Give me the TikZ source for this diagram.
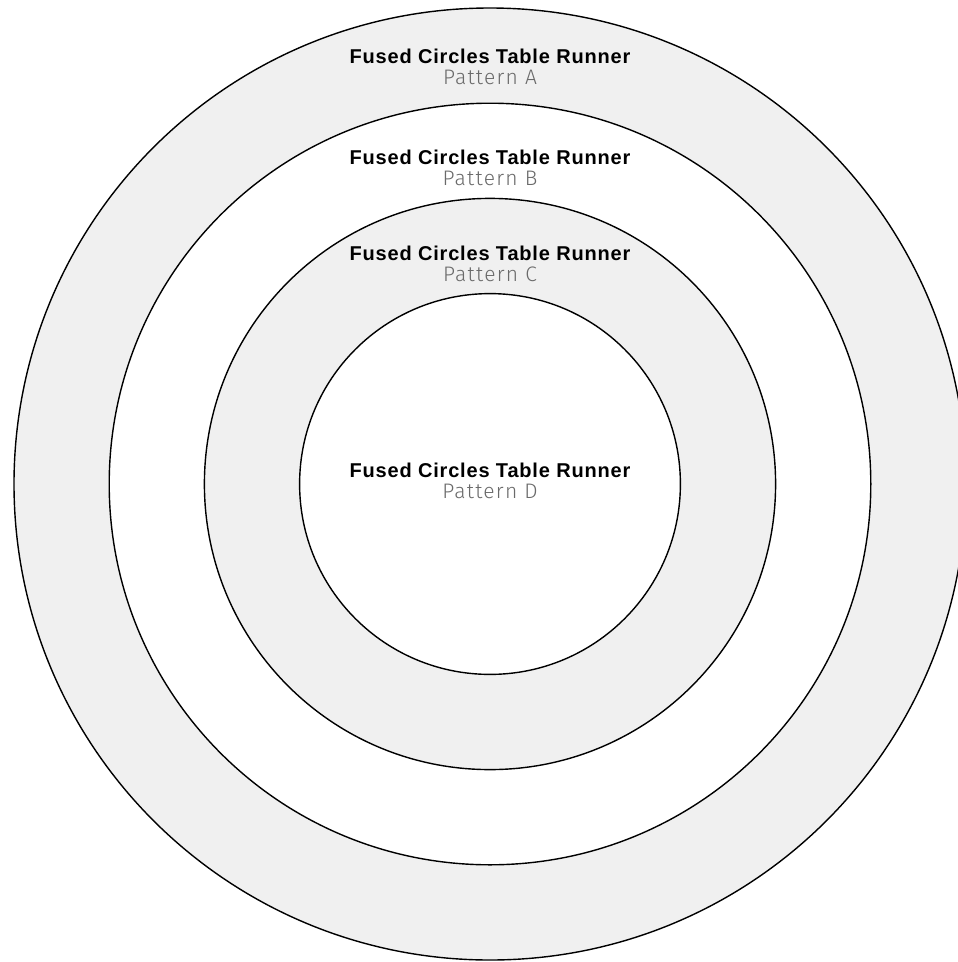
\documentclass[tikz,border=0pt]{standalone}
\usepackage{fontspec}
\setmainfont{Liberation Sans}
\newfontfamily\boldtitle[LetterSpace=4]{Liberation Sans Bold}
\newfontfamily\lightfont[LetterSpace=6]{Fira Sans Light}
\definecolor{ringgray}{HTML}{F0F0F0}
\definecolor{subgray}{HTML}{6A6A6A}
\tikzset{
  ring/.style={draw=black, line width=1.4pt},
  titletext/.style={anchor=base, font=\boldtitle\fontsize{20}{23}\selectfont, text=black, inner sep=0pt},
  subtext/.style={anchor=base, font=\lightfont\fontsize{21}{24}\selectfont, text=subgray, inner sep=0pt}
}
\begin{document}
\begin{tikzpicture}[x=1pt,y=-1pt]
\useasboundingbox (0,0) rectangle (958,962);
\clip (0,0) rectangle (958,962);
\coordinate (c) at (490,484);
\filldraw[ring, fill=ringgray] (c) circle[radius=476];
\filldraw[ring, fill=white] (c) circle[radius=380.8];
\filldraw[ring, fill=ringgray] (c) circle[radius=285.6];
\filldraw[ring, fill=white] (c) circle[radius=190.4];
\node[titletext] (ta) at (490,63) {Fused Circles Table Runner};
\node[subtext] (pa) at (490,84) {Pattern A};
\node[titletext] (tb) at (490,164) {Fused Circles Table Runner};
\node[subtext] (pb) at (490,185) {Pattern B};
\node[titletext] (tc) at (490,260) {Fused Circles Table Runner};
\node[subtext] (pc) at (490,281) {Pattern C};
\node[titletext] (td) at (490,477) {Fused Circles Table Runner};
\node[subtext] (pd) at (490,498) {Pattern D};
\end{tikzpicture}
\end{document}
